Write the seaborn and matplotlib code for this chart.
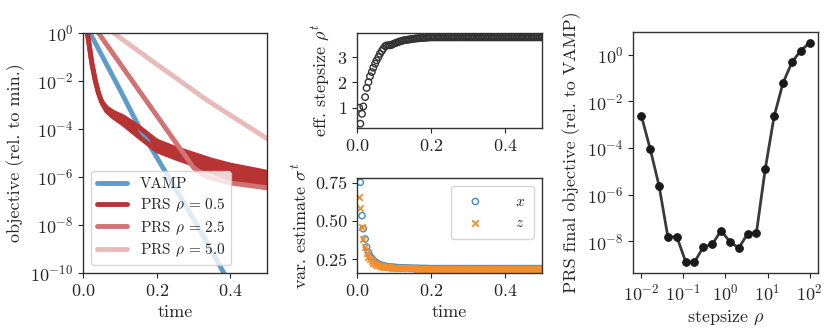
import numpy as np
import pandas as pd
import seaborn as sns
import matplotlib.pyplot as plt
import matplotlib.ticker as mticker

# ---------------- data ----------------
# left panel: objective relative to minimum (log10 values)
t_vamp = [0.0, 0.019, 0.1, 0.155, 0.232, 0.31, 0.39]
vamp_log10 = [0.7, 0.0, -2.35, -4.0, -6.0, -8.0, -10.2]

t_prs05 = [0.0, 0.012, 0.024, 0.033, 0.042, 0.051, 0.064, 0.082, 0.11, 0.15,
           0.2, 0.25, 0.3, 0.35, 0.4, 0.45, 0.5]
prs05_upper_log10 = [0.4, 0.0, -1.26, -1.96, -2.5, -2.86, -3.12, -3.3, -3.5, -3.9,
                     -4.5, -4.8, -5.05, -5.3, -5.5, -5.65, -5.8]
prs05_lower_log10 = [0.4, 0.0, -1.26, -1.96, -2.5, -2.9, -3.25, -3.5, -3.8, -4.3,
                     -4.9, -5.2, -5.47, -5.8, -6.08, -6.28, -6.45]

t_prs25 = [0.0, 0.042, 0.1, 0.15, 0.2, 0.25, 0.3, 0.33, 0.36, 0.4, 0.45, 0.5]
prs25_log10 = [0.9, 0.0, -1.26, -2.35, -3.43, -4.52, -5.6, -5.95, -6.1, -6.25, -6.35, -6.45]

t_prs50 = [0.0, 0.083, 0.2, 0.336, 0.5]
prs50_log10 = [0.8, 0.0, -1.3, -2.79, -4.4]

# middle panels: per-iteration values
t_iter = [0.006, 0.009, 0.0135, 0.017, 0.022, 0.026, 0.031, 0.035, 0.040, 0.044,
          0.049, 0.053, 0.058, 0.062, 0.067, 0.071, 0.076, 0.080, 0.085, 0.089,
          0.094, 0.098, 0.103,
          0.1075, 0.112, 0.1165, 0.121, 0.1255, 0.130, 0.1345, 0.139, 0.1435, 0.148,
          0.1525, 0.157, 0.1615, 0.166, 0.1705, 0.175, 0.1795, 0.184, 0.1885, 0.193,
          0.1975, 0.202, 0.2065, 0.211, 0.2155, 0.220, 0.2245, 0.229, 0.2335, 0.238,
          0.2425, 0.247, 0.2515, 0.256, 0.2605, 0.265, 0.2695, 0.274, 0.2785, 0.283,
          0.2875, 0.292, 0.2965, 0.301, 0.3055, 0.310, 0.3145, 0.319, 0.3235, 0.328,
          0.3325, 0.337, 0.3415, 0.346, 0.3505, 0.355, 0.3595, 0.364, 0.3685, 0.373,
          0.3775, 0.382, 0.3865, 0.391, 0.3955, 0.400, 0.4045, 0.409, 0.4135, 0.418,
          0.4225, 0.427, 0.4315, 0.436, 0.4405, 0.445, 0.4495, 0.454, 0.4585, 0.463,
          0.4675, 0.472, 0.4765, 0.481, 0.4855, 0.490, 0.4945, 0.499, 0.5035, 0.508]

rho_t = [1.00, 0.37, 0.76, 1.05, 1.42, 1.78, 2.01, 2.24, 2.41, 2.58,
         2.74, 2.87, 3.00, 3.13, 3.24, 3.33, 3.43, 3.46, 3.46, 3.47,
         3.48, 3.52, 3.55,
         3.57, 3.60, 3.62, 3.64, 3.66, 3.67, 3.68, 3.69, 3.70, 3.71,
         3.72, 3.73, 3.74, 3.74, 3.75, 3.75, 3.76, 3.76, 3.77, 3.77,
         3.78, 3.78, 3.78, 3.78, 3.78, 3.78, 3.78, 3.78, 3.78, 3.78,
         3.78, 3.78, 3.78, 3.78, 3.78, 3.78, 3.78, 3.78, 3.78, 3.78,
         3.78, 3.78, 3.78, 3.78, 3.78, 3.78, 3.78, 3.78, 3.78, 3.78,
         3.78, 3.78, 3.78, 3.78, 3.78, 3.78, 3.78, 3.78, 3.78, 3.78,
         3.78, 3.78, 3.78, 3.78, 3.78, 3.78, 3.78, 3.78, 3.78, 3.78,
         3.78, 3.78, 3.78, 3.78, 3.78, 3.78, 3.78, 3.78, 3.78, 3.78,
         3.78, 3.78, 3.78, 3.78, 3.78, 3.78, 3.78, 3.78, 3.78, 3.78]

sigma_x = [np.nan, 0.753, 0.535, 0.45, 0.383, 0.33, 0.295, 0.272, 0.256, 0.244,
           0.234, 0.226, 0.220, 0.215, 0.211, 0.208, 0.205, 0.203, 0.201, 0.200,
           0.199, 0.198, 0.197,
           0.196, 0.195, 0.195, 0.194, 0.194, 0.193, 0.193, 0.192, 0.192, 0.192,
           0.191, 0.191, 0.191, 0.191, 0.190, 0.190, 0.190, 0.190, 0.190, 0.189,
           0.189, 0.189, 0.189, 0.189, 0.189, 0.189, 0.189, 0.189, 0.189, 0.189,
           0.189, 0.189, 0.189, 0.189, 0.189, 0.189, 0.189, 0.189, 0.189, 0.189,
           0.189, 0.189, 0.189, 0.189, 0.189, 0.189, 0.189, 0.189, 0.189, 0.189,
           0.189, 0.189, 0.189, 0.189, 0.189, 0.189, 0.189, 0.189, 0.189, 0.189,
           0.189, 0.189, 0.189, 0.189, 0.189, 0.189, 0.189, 0.189, 0.189, 0.189,
           0.189, 0.189, 0.189, 0.189, 0.189, 0.189, 0.189, 0.189, 0.189, 0.189,
           0.189, 0.189, 0.189, 0.189, 0.189, 0.189, 0.189, 0.189, 0.189, 0.189]

sigma_z = [0.66, 0.583, 0.46, 0.385, 0.33, 0.29, 0.267, 0.25, 0.238, 0.229,
           0.222, 0.216, 0.211, 0.208, 0.205, 0.203, 0.201, 0.199, 0.198, 0.197,
           0.196, 0.196, 0.195,
           0.195, 0.194, 0.194, 0.193, 0.193, 0.192, 0.192, 0.192, 0.191, 0.191,
           0.191, 0.191, 0.190, 0.190, 0.190, 0.190, 0.190, 0.190, 0.190, 0.190,
           0.190, 0.190, 0.190, 0.190, 0.190, 0.190, 0.190, 0.190, 0.190, 0.190,
           0.190, 0.190, 0.190, 0.190, 0.190, 0.190, 0.190, 0.190, 0.190, 0.190,
           0.190, 0.190, 0.190, 0.190, 0.190, 0.190, 0.190, 0.190, 0.190, 0.190,
           0.190, 0.190, 0.190, 0.190, 0.190, 0.190, 0.190, 0.190, 0.190, 0.190,
           0.190, 0.190, 0.190, 0.190, 0.190, 0.190, 0.190, 0.190, 0.190, 0.190,
           0.190, 0.190, 0.190, 0.190, 0.190, 0.190, 0.190, 0.190, 0.190, 0.190,
           0.190, 0.190, 0.190, 0.190, 0.190, 0.190, 0.190, 0.190, 0.190, 0.190]

# right panel: final objective vs stepsize
stepsizes = [0.01, 0.01624, 0.02637, 0.04281, 0.06952, 0.1129, 0.1833, 0.2976,
             0.4833, 0.7848, 1.274, 2.069, 3.360, 5.456, 8.859, 14.38, 23.36,
             37.93, 61.58, 100.0]
final_obj = [2.4e-3, 9e-5, 2.4e-6, 1.5e-8, 1.6e-8, 1.35e-9, 1.3e-9, 5.7e-9,
             7.4e-9, 2.9e-8, 9.7e-9, 5.2e-9, 2.1e-8, 2.4e-8, 1.3e-5, 2.3e-3,
             6.1e-2, 0.47, 1.5, 3.2]

# ---------------- style ----------------
sns.set_style("ticks")
plt.rcParams.update({
    "font.family": ["cmr10", "DejaVu Serif"],
    "mathtext.fontset": "cm",
    "axes.formatter.use_mathtext": True,
    "axes.unicode_minus": False,
    "font.size": 13,
    "axes.labelsize": 13,
    "xtick.labelsize": 13,
    "ytick.labelsize": 13,
    "axes.linewidth": 1.0,
    "axes.edgecolor": "#333333",
})

c_vamp = "#5d9dcb"
c_05 = "#b83333"
c_25 = "#d27272"
c_50 = "#e8baba"
lw = 3.5

fig = plt.figure(figsize=(8.31, 3.29), dpi=100)

# ---------------- left: objective vs time ----------------
ax1 = fig.add_axes([0.0999, 0.1702, 0.2214, 0.7295])
ax1.set_yscale("log")
sns.lineplot(x=t_vamp, y=10.0 ** np.array(vamp_log10), color=c_vamp, lw=lw,
             ax=ax1, label="VAMP")
up05 = 10.0 ** np.array(prs05_upper_log10)
lo05 = 10.0 ** np.array(prs05_lower_log10)
ax1.fill_between(t_prs05, lo05, up05, color=c_05, lw=0)
sns.lineplot(x=t_prs05, y=up05, color=c_05, lw=lw, ax=ax1, label=r"PRS $\rho\,=\,0.5$")
sns.lineplot(x=t_prs05, y=lo05, color=c_05, lw=lw, ax=ax1)
sns.lineplot(x=t_prs25, y=10.0 ** np.array(prs25_log10), color=c_25, lw=lw,
             ax=ax1, label=r"PRS $\rho\,=\,2.5$")
sns.lineplot(x=t_prs50, y=10.0 ** np.array(prs50_log10), color=c_50, lw=lw,
             ax=ax1, label=r"PRS $\rho\,=\,5.0$")
ax1.set_xlim(0, 0.5)
ax1.set_ylim(1e-10, 1)
ax1.set_xticks([0.0, 0.2, 0.4])
ax1.set_yticks([1e0, 1e-2, 1e-4, 1e-6, 1e-8, 1e-10])
ax1.yaxis.set_minor_locator(mticker.NullLocator())
ax1.set_xlabel("time")
ax1.set_ylabel("objective (rel. to min.)")
ax1.legend(loc="lower left", fontsize=11, handlelength=2.0, labelspacing=0.35)

# ---------------- middle top: effective stepsize ----------------
ax2 = fig.add_axes([0.4296, 0.6109, 0.2226, 0.2888])
sns.scatterplot(x=t_iter, y=rho_t, marker="o", s=22, facecolor="none",
                edgecolor="#333333", linewidth=1.0, ax=ax2)
ax2.set_xlim(0, 0.5)
ax2.set_xticks([0.0, 0.2, 0.4])
ax2.set_yticks([1, 2, 3])
ax2.set_ylabel(r"eff. stepsize $\rho^t$")

# ---------------- middle bottom: variance estimates ----------------
ax3 = fig.add_axes([0.4296, 0.1702, 0.2226, 0.2888])
sns.scatterplot(x=t_iter, y=sigma_x, marker="o", s=20, facecolor="none",
                edgecolor="#4c92c9", linewidth=1.1, ax=ax3, label=r"$x$")
sns.scatterplot(x=t_iter, y=sigma_z, marker="x", s=22, color="#f28e2b",
                linewidth=1.3, ax=ax3, label=r"$z$")
ax3.set_xlim(0, 0.5)
ax3.set_xticks([0.0, 0.2, 0.4])
ax3.set_yticks([0.25, 0.5, 0.75])
ax3.yaxis.set_major_formatter(mticker.FormatStrFormatter("%.2f"))
ax3.set_xlabel("time")
ax3.set_ylabel(r"var. estimate $\sigma^t$")
ax3.legend(loc="upper right", fontsize=11, handletextpad=1.6, borderpad=0.6)

# ---------------- right: final objective vs stepsize ----------------
ax4 = fig.add_axes([0.7617, 0.1702, 0.2226, 0.7325])
ax4.set_xscale("log")
ax4.set_yscale("log")
sns.lineplot(x=stepsizes, y=final_obj, color="#3a3a3a", lw=2.0, marker="o",
             markersize=5.5, markeredgecolor="#1a1a1a", markerfacecolor="#1a1a1a",
             ax=ax4)
ax4.set_xticks([1e-2, 1e-1, 1e0, 1e1, 1e2])
ax4.set_yticks([1e0, 1e-2, 1e-4, 1e-6, 1e-8])
ax4.xaxis.set_minor_locator(mticker.NullLocator())
ax4.yaxis.set_minor_locator(mticker.NullLocator())
ax4.set_xlabel(r"stepsize $\rho$")
ax4.set_ylabel("PRS final objective (rel. to VAMP)")

fig.savefig("out.png", dpi=100)
